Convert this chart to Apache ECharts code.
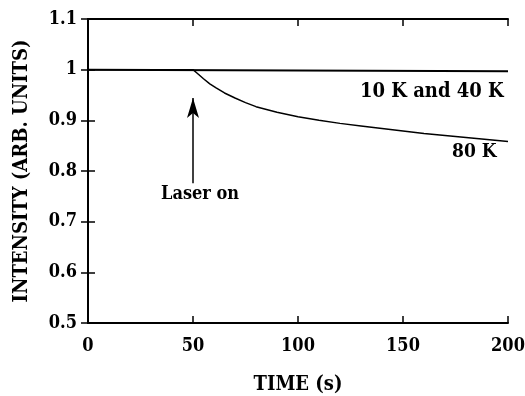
<!DOCTYPE html>
<html>
<head>
<meta charset="utf-8">
<script src="https://cdn.jsdelivr.net/npm/echarts@6/dist/echarts.min.js"></script>
<style>
  html, body { margin: 0; padding: 0; background: #fff; }
  #chart { width: 525px; height: 396px; }
</style>
</head>
<body>
<div id="chart"></div>
<script>
// time (s) and intensity values
const timeLow = [0, 200];
const intensityLow = [1.0, 0.997];          // 10 K and 40 K
const time80 = [0, 50, 52, 55, 58, 61, 65, 70, 75, 80, 90, 100, 110, 120, 130, 140, 150, 160, 170, 180, 190, 200];
const intensity80 = [1.0, 1.0, 0.993, 0.982, 0.972, 0.964, 0.954, 0.944, 0.935, 0.927, 0.916, 0.907, 0.900, 0.894, 0.889, 0.884, 0.879, 0.874, 0.870, 0.866, 0.862, 0.858];
const xTicks = [0, 50, 100, 150, 200];
const yTicks = [0.5, 0.6, 0.7, 0.8, 0.9, 1, 1.1];

const font = '"DejaVu Serif Condensed", "Liberation Serif", serif';
const pair = (xs, ys) => xs.map((x, i) => [x, ys[i]]);

const chart = echarts.init(document.getElementById('chart'));

const xBase = {
    type: 'value',
    min: xTicks[0],
    max: xTicks[xTicks.length - 1],
    interval: 50,
    axisLine: { lineStyle: { color: '#000', width: 2 } },
    axisTick: { show: true, inside: true, length: 7, lineStyle: { color: '#000', width: 1.5 } },
    splitLine: { show: false }
};
const yBase = {
    type: 'value',
    min: yTicks[0],
    max: yTicks[yTicks.length - 1],
    interval: 0.1,
    axisLine: { lineStyle: { color: '#000', width: 2 } },
    axisTick: { show: true, inside: true, length: 7, lineStyle: { color: '#000', width: 1.5 } },
    splitLine: { show: false }
};
const textStyle = { fontFamily: font, fontWeight: 'bold', fontSize: 18, color: '#000' };
const nameStyle = Object.assign({}, textStyle, { fontSize: 20 });

chart.setOption({
    animation: false,
    grid: { left: 88, right: 17, top: 19, bottom: 73, containLabel: false, outerBoundsMode: 'none' },
    xAxis: [
        Object.assign({}, xBase, {
            position: 'bottom',
            name: 'TIME (s)',
            nameLocation: 'middle',
            nameGap: 52,
            nameTextStyle: nameStyle,
            axisLabel: Object.assign({ margin: 14 }, textStyle)
        }),
        Object.assign({}, xBase, { position: 'top', axisLabel: { show: false } })
    ],
    yAxis: [
        Object.assign({}, yBase, {
            position: 'left',
            name: 'INTENSITY (ARB. UNITS)',
            nameLocation: 'middle',
            nameGap: 56,
            nameTextStyle: nameStyle,
            axisLabel: Object.assign({ margin: 11,
                formatter: v => String(Math.round(v * 10) / 10) }, textStyle)
        }),
        Object.assign({}, yBase, { position: 'right', axisLabel: { show: false } })
    ],
    series: [
        {
            name: '10 K and 40 K',
            type: 'line',
            data: pair(timeLow, intensityLow),
            symbol: 'none',
            lineStyle: { color: '#000', width: 2 }
        },
        {
            name: '80 K',
            type: 'line',
            data: pair(time80, intensity80),
            symbol: 'none',
            lineStyle: { color: '#000', width: 1.5 },
            markLine: {
                silent: true,
                symbol: ['none', 'arrow'],
                symbolSize: [9, 20],
                lineStyle: { color: '#000', width: 1.5, type: 'solid' },
                label: { show: false },
                data: [[{ coord: [50, 0.776] }, { coord: [50, 0.944] }]]
            }
        }
    ],
    graphic: [
        { type: 'text', left: 360, top: 82,
          style: { text: '10 K and 40 K', font: 'bold 20px ' + font, fill: '#000' } },
        { type: 'text', left: 452, top: 143,
          style: { text: '80 K', font: 'bold 19px ' + font, fill: '#000' } },
        { type: 'text', left: 161, top: 185,
          style: { text: 'Laser on', font: 'bold 18px ' + font, fill: '#000' } }
    ]
});
</script>
</body>
</html>
